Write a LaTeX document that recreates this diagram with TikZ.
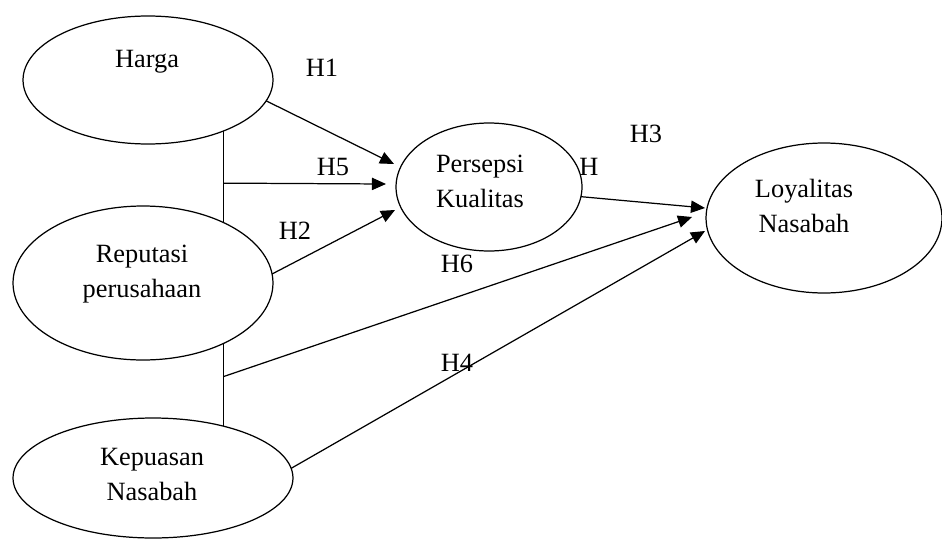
\documentclass[tikz,border=0pt]{standalone}
\usepackage{fontspec}
\setmainfont{Liberation Serif}
\usetikzlibrary{shapes.geometric,arrows.meta,positioning}

\begin{document}
\begin{tikzpicture}[
    x=0.02cm, y=-0.02cm,
    % Define styles for the variables and paths
    latent/.style={draw, ellipse, line width=0.7pt, inner sep=0pt, outer sep=0pt},
    varname/.style={font=\fontsize{15}{19.4}\selectfont, align=center, anchor=base, inner sep=0pt},
    hyp/.style={font=\fontsize{15}{18}\selectfont, anchor=base, inner sep=0pt},
    arrow/.style={-{Triangle[length=8pt,width=7pt]}, line width=0.7pt},
    link/.style={line width=0.7pt}
]

\useasboundingbox (0,0) rectangle (942,541);

% Latent variables
\node[latent, minimum width=5cm, minimum height=2.56cm] (harga) at (148,80) {};
\node[latent, minimum width=5.2cm, minimum height=3.08cm] (reputasi) at (143,283) {};
\node[latent, minimum width=5.6cm, minimum height=2.4cm] (kepuasan) at (153,478) {};
\node[latent, minimum width=3.72cm, minimum height=2.56cm] (persepsi) at (489,187) {};
\node[latent, minimum width=4.72cm, minimum height=3cm] (loyalitas) at (824,218) {};

% Variable names (base = last line)
\node[varname] (harga_txt) at (147,67) {Harga};
\node[varname] (reputasi_txt) at (142,297) {Reputasi\\perusahaan};
\node[varname] (kepuasan_txt) at (152,500) {Kepuasan\\Nasabah};
\node[varname] (persepsi_txt) at (480,207) {Persepsi\\Kualitas};
\node[varname] (loyalitas_txt) at (804,232) {Loyalitas\\Nasabah};

% Joint bars between the exogenous variables
\draw[link] (harga.-34.3) -- (harga.-34.3 |- reputasi.37.2)
    coordinate[pos=0.57] (split_top);
\draw[link] (reputasi.-37.2) -- (reputasi.-37.2 |- kepuasan.36.6)
    coordinate[pos=0.40] (split_bottom);

% Paths to Persepsi Kualitas
\draw[arrow] (harga.-10) -- ([shift={(-2,-23)}]persepsi.west);
\draw[arrow] (split_top) -- ([shift={(-10,-3)}]persepsi.west);
\draw[arrow] (reputasi.4.9) -- ([shift={(-1,23)}]persepsi.west);

% Paths to Loyalitas Nasabah
\draw[arrow] (persepsi.-6.7) -- ([shift={(-1,-10)}]loyalitas.west);
\draw[arrow] (split_bottom) -- ([shift={(-14,-1)}]loyalitas.west);
\draw[arrow] (kepuasan.4.5) -- ([shift={(-1,13)}]loyalitas.west);

% Hypothesis labels
\node[hyp] (h1) at (322,76) {H1};
\node[hyp] (h5) at (333,175) {H5};
\node[hyp] (h2) at (295,239) {H2};
\node[hyp] (h6) at (457,272) {H6};
\node[hyp] (h) at (589,175) {H};
\node[hyp] (h3) at (646,142) {H3};
\node[hyp] (h4) at (457,371) {H4};

\end{tikzpicture}
\end{document}
